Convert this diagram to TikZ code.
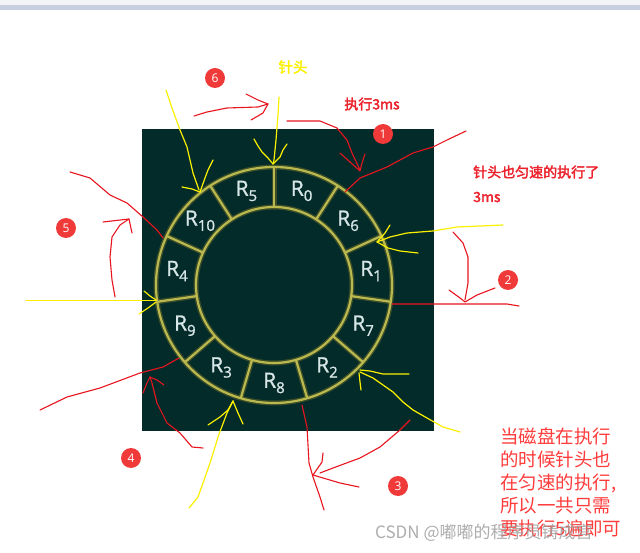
\documentclass[tikz,border=0pt]{standalone}
\usepackage{fontspec}
\setmainfont{Open Sans}
\newfontfamily\labfont{Open Sans}[FakeBold=1.2]
\newfontfamily\cjk{Noto Sans CJK SC}
\newfontfamily\cjkb{Noto Sans CJK SC}[FakeBold=2.5]
\definecolor{board}{RGB}{3,43,42}
\definecolor{ringc}{RGB}{185,185,80}
\definecolor{glowc}{RGB}{95,100,40}
\definecolor{labc}{RGB}{215,230,230}
\definecolor{penred}{RGB}{232,20,30}
\definecolor{penyel}{RGB}{250,240,0}
\definecolor{txtred}{RGB}{236,34,44}
\definecolor{txtred2}{RGB}{255,60,60}
\definecolor{badge}{RGB}{240,58,58}
\definecolor{topgrey}{RGB}{243,244,246}
\definecolor{topblue}{RGB}{198,206,224}
\tikzset{
  ring/.style={draw=ringc, line width=2.2pt},
  glow/.style={draw=glowc, line width=5pt, opacity=0.6},
  rlab/.style={text=labc, font=\labfont\fontsize{21}{21}\selectfont, inner sep=0pt},
  red/.style={draw=penred, line width=1.1pt, line join=round, line cap=round},
  yel/.style={draw=penyel, line width=1.2pt, line join=round, line cap=round},
  badgenode/.style={circle, fill=badge, minimum size=20pt, inner sep=0pt, text=white, font=\fontsize{12}{12}\selectfont},
}
\newcommand{\rsub}[1]{R\raisebox{-0.25em}{\fontsize{15}{15}\selectfont #1}}
\begin{document}
\begin{tikzpicture}[x=1pt,y=-1pt]
\useasboundingbox (0,0) rectangle (640,553);
\fill[white] (0,0) rectangle (640,553);
\fill[topgrey] (0,0) rectangle (640,5);
\fill[topblue] (0,5) rectangle (640,10);
\fill[board] (142,129) rectangle (434,431);
% disk
\coordinate (c) at (274,285);
\draw[glow] (c) circle[radius=118pt];
\draw[glow] (c) circle[radius=78pt];
\foreach \i in {0,...,10}{
  \pgfmathsetmacro\a{90-\i*360/11}
  \draw[glow] ({274+78*cos(\a)},{285-78*sin(\a)}) -- ({274+118*cos(\a)},{285-118*sin(\a)});
}
\draw[ring] (c) circle[radius=118pt];
\draw[ring] (c) circle[radius=78pt];
\foreach \i in {0,...,10}{
  \pgfmathsetmacro\a{90-\i*360/11}
  \draw[ring] ({274+78*cos(\a)},{285-78*sin(\a)}) -- ({274+118*cos(\a)},{285-118*sin(\a)});
}
\foreach \s [count=\i from 0] in {0,6,1,7,2,8,3,9,4,10,5}{
  \pgfmathsetmacro\a{90-(\i+0.5)*360/11}
  \node[rlab] (r\s) at ({274+98*cos(\a)},{285-98*sin(\a)}) {\rsub{\s}};
}
% texts
\node[text=penyel, font=\cjkb\fontsize{14.5}{14.5}\selectfont] (needle) at (293,67) {针头};
\node[text=txtred, font=\cjkb\fontsize{14}{14}\selectfont] (exec) at (372,104) {执行3ms};
\node[text=txtred, font=\cjkb\fontsize{14}{14}\selectfont, anchor=west, inner sep=0pt] (also) at (473,172) {针头也匀速的执行了};
\node[text=txtred, font=\cjkb\fontsize{14}{14}\selectfont, anchor=west, inner sep=0pt] (also2) at (473,197) {3ms};
\node[text=txtred2, font=\cjk\fontsize{18.5}{22.8}\selectfont, anchor=north west, align=left, inner sep=0pt] (note) at (500,428)
  {当磁盘在执行\\的时候针头也\\在匀速的执行,\\所以一共只需\\要执行5遍即可};
\node[text=gray!75, opacity=0.85, font=\cjk\fontsize{17}{17}\selectfont, anchor=west, inner sep=0pt] (wm) at (375,533) {CSDN @嘟嘟的程序员铸成宫};
% badges
\node[badgenode] (b1) at (383,134) {1};
\node[badgenode] (b2) at (508,280) {2};
\node[badgenode] (b3) at (398,486) {3};
\node[badgenode] (b4) at (131,458) {4};
\node[badgenode] (b5) at (66,228) {5};
\node[badgenode] (b6) at (215,78) {6};
% yellow strokes
\draw[yel] (279,97) -- (278,115) -- (276,140) -- (274,160) -- (273,164);
\draw[yel] (254,139) -- (258,146) -- (262,152) -- (268,158) -- (273,164);
\draw[yel] (287,144) -- (283,150) -- (280,157) -- (273,164);
\draw[yel] (166,90) -- (172,108) -- (180,130) -- (187,147) -- (190,160) -- (193,173) -- (199,190);
\draw[yel] (182,187) -- (192,189) -- (200,192);
\draw[yel] (213,160) -- (208,170) -- (205,178) -- (200,192);
\draw[yel] (377,242) -- (390,237) -- (407,233) -- (433,231) -- (457,227) -- (503,225);
\draw[yel] (390,225) -- (385,233) -- (377,242);
\draw[yel] (377,242) -- (388,248) -- (400,251) -- (418,253);
\draw[yel] (26,300.5) -- (156,300.5);
\draw[yel] (144,291) -- (150,296) -- (156,300);
\draw[yel] (139,314) -- (148,308) -- (156,302);
\draw[yel] (233,401) -- (227,413) -- (218,437) -- (215,447) -- (210,463) -- (203,483) -- (198,497) -- (189,508);
\draw[yel] (208,425) -- (220,417) -- (228,410) -- (233,401);
\draw[yel] (243,424) -- (238,413) -- (233,401);
\draw[yel] (360,370) -- (370,371) -- (383,374) -- (409,374);
\draw[yel] (359,373) -- (360,382) -- (361,390);
\draw[yel] (360,372) -- (373,378) -- (393,392) -- (403,402) -- (413,410) -- (427,418) -- (443,427) -- (460,432);
% red strokes
\draw[red] (287,121) -- (320,121) -- (337,128) -- (347,140) -- (352,153) -- (360,170);
\draw[red] (340,153) -- (350,162) -- (360,171) -- (362,163) -- (365,154);
\draw[red] (345,192) -- (360,178) -- (387,167) -- (413,153) -- (433,147) -- (447,140) -- (466,131);
\draw[red] (194,116) -- (207,112) -- (227,108) -- (258,107) -- (268,104);
\draw[red] (246,94) -- (258,100) -- (268,104) -- (263,113) -- (251,120);
\draw[red] (70,172) -- (90,178) -- (110,195) -- (127,203) -- (143,217) -- (157,230) -- (163,238);
\draw[red] (115,297) -- (112,280) -- (110,257) -- (112,237) -- (120,225) -- (129,219);
\draw[red] (103,222) -- (129,219) -- (132,233);
\draw[red] (179,358) -- (163,367) -- (140,373) -- (100,388) -- (67,397) -- (40,410);
\draw[red] (203,448) -- (192,447) -- (180,433) -- (167,423) -- (157,403) -- (152,383) -- (150,377);
\draw[red] (143,393) -- (147,383) -- (150,377);
\draw[red] (164,385) -- (157,380) -- (150,377);
\draw[red] (392,304) -- (507,304) -- (519,306);
\draw[red] (453,232) -- (463,243) -- (468,257) -- (468,283) -- (465,300);
\draw[red] (449,290) -- (460,298) -- (465,302) -- (477,295) -- (495,288);
\draw[red] (302,405) -- (307,427) -- (309,463) -- (313,477) -- (320,497) -- (324,510);
\draw[red] (323,453) -- (322,462) -- (313,475);
\draw[red] (359,487) -- (340,483) -- (313,475);
\draw[red] (410,420) -- (400,430) -- (380,447) -- (360,458) -- (333,468) -- (320,473);
\end{tikzpicture}
\end{document}
